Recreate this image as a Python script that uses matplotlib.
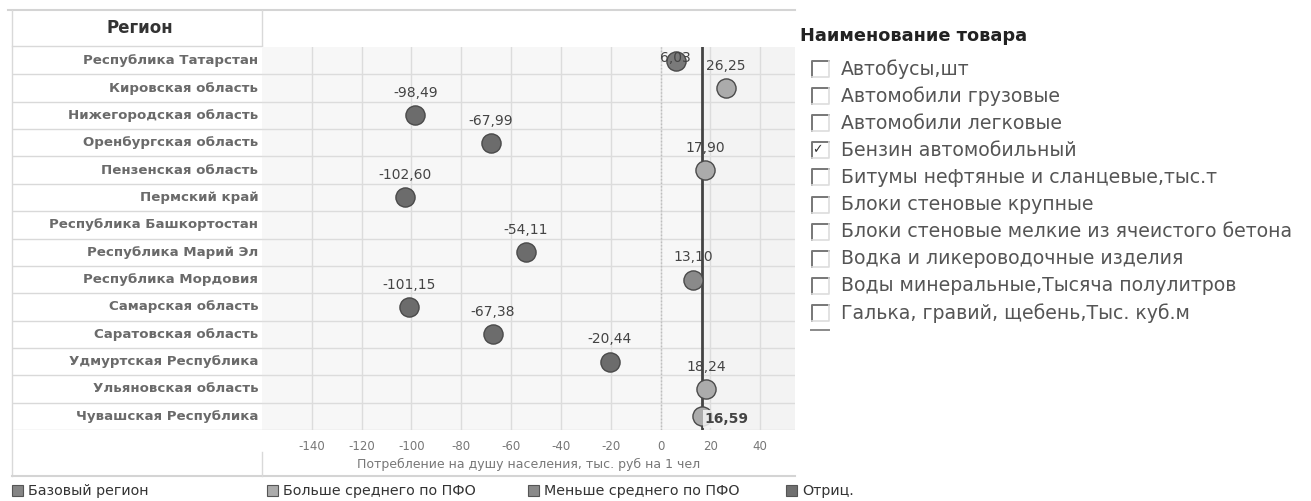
import matplotlib.pyplot as plt
from matplotlib.patches import Rectangle

# Данные
regions = [
    "Республика Татарстан", "Кировская область", "Нижегородская область",
    "Оренбургская область", "Пензенская область", "Пермский край",
    "Республика Башкортостан", "Республика Марий Эл", "Республика Мордовия",
    "Самарская область", "Саратовская область", "Удмуртская Республика",
    "Ульяновская область", "Чувашская Республика",
]
values = [6.03, 26.25, -98.49, -67.99, 17.90, -102.60, None,
          -54.11, 13.10, -101.15, -67.38, -20.44, 18.24, 16.59]
groups = ["base", "above", "neg", "neg", "above", "neg", None,
          "neg", "below", "neg", "neg", "neg", "above", "above"]
pfo_mean = 16.5

goods = [
    "Автобусы,шт", "Автомобили грузовые", "Автомобили легковые",
    "Бензин автомобильный", "Битумы нефтяные и сланцевые,тыс.т",
    "Блоки стеновые крупные", "Блоки стеновые мелкие из ячеистого бетона",
    "Водка и ликероводочные изделия", "Воды минеральные,Тысяча полулитров",
    "Галька, гравий, щебень,Тыс. куб.м",
]
checked = [False, False, False, True, False, False, False, False, False, False]

legend_labels = ["Базовый регион", "Больше среднего по ПФО",
                 "Меньше среднего по ПФО", "Отриц."]
legend_keys = ["base", "above", "below", "neg"]

colors = {"base": "#7a7a7a", "above": "#ababab", "below": "#8a8a8a", "neg": "#6c6c6c"}
legend_colors = {"base": "#858585", "above": "#ababab", "below": "#8a8a8a", "neg": "#707070"}

W, H = 1311, 501
plt.rcParams['font.family'] = ['DejaVu Sans']
plt.rcParams['axes.unicode_minus'] = False
fig = plt.figure(figsize=(W / 100, H / 100), dpi=100)


def fax(x0, y0, x1, y1):
    # оси в пикселях (y сверху)
    return fig.add_axes([x0 / W, 1 - y1 / H, (x1 - x0) / W, (y1 - y0) / H])


n = len(regions)
top, bottom = 47, 430

# слой для рамок и подписей
ov = fax(0, 0, W, H)
ov.set_xlim(0, W)
ov.set_ylim(H, 0)
ov.axis("off")
line_c = "#d9d9d9"
ov.plot([8, 795], [10, 10], color="#d4d4d4", lw=1.5)
ov.plot([12, 12], [10, 476], color=line_c, lw=1)
ov.plot([12, 795], [476, 476], color="#d4d4d4", lw=1.5)
ov.plot([262, 262], [10, 45], color=line_c, lw=1)
ov.plot([262, 262], [452, 476], color=line_c, lw=1)
ov.plot([12, 262], [46, 46], color=line_c, lw=1)
ov.text(140, 28, "Регион", ha="center", va="center", fontsize=12,
        fontweight="bold", color="#333333")

# левая колонка с регионами
axl = fax(12, top, 262, bottom)
axl.set_xlim(0, 1)
axl.set_ylim(n - 0.5, -0.5)
axl.axis("off")
for i, r in enumerate(regions):
    axl.text(0.985, i, r, ha="right", va="center", fontsize=9.6,
             fontweight="bold", color="#6a6a6a")
    axl.axhline(i + 0.5, color=line_c, lw=1)

# основная область
ax = fax(262, top, 795, bottom)
ax.set_facecolor("#f7f7f7")
ax.set_xlim(-160, 54)
ax.set_ylim(n - 0.5, -0.5)
ax.axvspan(pfo_mean, 54, color="#f3f3f3", zorder=0)
ax.set_xticks(range(-140, 41, 20))
for xv in range(-140, 41, 20):
    ax.axvline(xv, color="#dcdcdc", lw=1, zorder=1)
for i in range(n):
    ax.axhline(i + 0.5, color="#dcdcdc", lw=1, zorder=1)
ax.axvline(0, color="#bdbdbd", lw=1, ls=(0, (1, 1.5)), zorder=2)
ax.axvline(pfo_mean, color="#444444", lw=2, zorder=4)
ax.set_yticks([])
for s in ax.spines.values():
    s.set_visible(False)
ax.tick_params(axis="x", length=0, labelsize=8.5, labelcolor="#777777", pad=7)
ax.set_xlabel("Потребление на душу населения, тыс. руб на 1 чел", fontsize=9,
              color="#777777", labelpad=4)

for i, (v, g) in enumerate(zip(values, groups)):
    if v is None:
        continue
    ax.scatter(v, i, s=190, color=colors[g], edgecolor="#4a4a4a", lw=1, zorder=5)
    lab = f"{v:.2f}".replace(".", ",")
    if i == 0:
        ax.annotate(lab, (v, i), xytext=(0, 2), textcoords="offset points",
                    ha="center", va="center", fontsize=10, color="#444444", zorder=6)
    elif i == n - 1:
        ax.annotate(lab, (v, i), xytext=(2, -2), textcoords="offset points",
                    ha="left", va="center", fontsize=10, fontweight="bold",
                    color="#444444", zorder=6,
                    bbox=dict(boxstyle="square,pad=0.15", fc="#f3f3f3", ec="none", alpha=0.85))
    else:
        ax.annotate(lab, (v, i), xytext=(0, 16), textcoords="offset points",
                    ha="center", va="center", fontsize=10, color="#444444", zorder=6)

# фильтр справа
ov.text(800, 36, "Наименование товара", ha="left", va="center", fontsize=12.8,
        fontweight="bold", color="#222222")
for k, (g, c) in enumerate(zip(goods, checked)):
    y = 69 + k * 27.1
    # чекбокс: тёмный верх/лево, светлый низ/право
    ov.plot([812, 812, 829], [y + 8, y - 8, y - 8], color="#777777", lw=1.4)
    ov.plot([812, 829, 829], [y + 8, y + 8, y - 8], color="#dddddd", lw=1.2)
    if c:
        ov.text(817, y - 1, "✓", ha="center", va="center", fontsize=9, color="#333333")
    ov.text(841, y, g, ha="left", va="center", fontsize=13.6, color="#555555")
ov.plot([811, 829], [330, 330], color="#8a8a8a", lw=1.4)

# легенда внизу
for x0, key, lab in zip([12, 267, 528, 786], legend_keys, legend_labels):
    ov.add_patch(Rectangle((x0, 485), 11, 11,
                           fc=legend_colors[key], ec="#555555", lw=0.8))
    ov.text(x0 + 16, 491, lab, ha="left", va="center", fontsize=10.3, color="#333333")

plt.savefig("out.png", dpi=100)
plt.close()
